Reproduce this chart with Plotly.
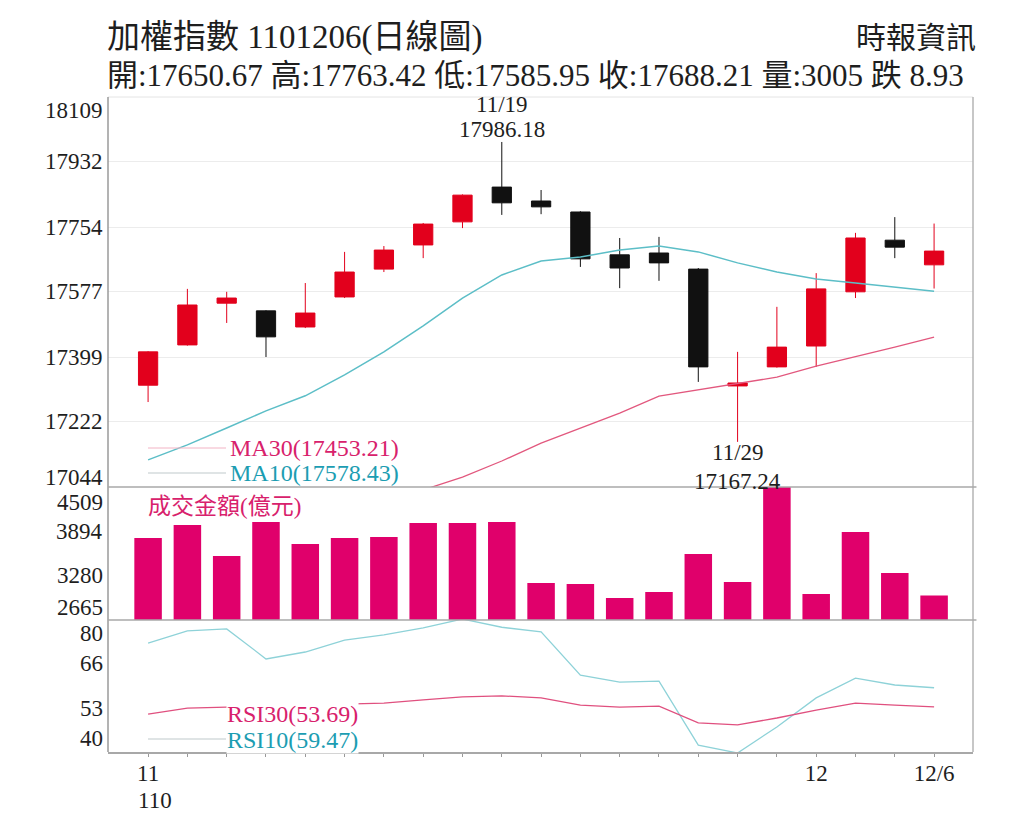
import plotly.graph_objects as go

# ---------------- data ----------------
dates = ["11/08", "11/09", "11/10", "11/11", "11/12", "11/15", "11/16", "11/17", "11/18", "11/19",
         "11/22", "11/23", "11/24", "11/25", "11/26", "11/29", "11/30", "12/01", "12/02", "12/03", "12/06"]
open_ = [17322, 17432, 17546, 17525, 17481, 17563, 17639, 17705, 17768, 17863,
         17825, 17795, 17678, 17683, 17639, 17320, 17372, 17429, 17577, 17718, 17650.67]
high = [17415, 17585, 17577, 17527, 17601, 17686, 17702, 17765, 17843, 17986.18,
        17855, 17797, 17724, 17727, 17642, 17413, 17536, 17628, 17738, 17781, 17763.42]
low = [17276, 17430, 17492, 17399, 17478, 17560, 17631, 17669, 17751, 17787,
       17789, 17645, 17587, 17607, 17331, 17167.24, 17370, 17372, 17560, 17669, 17585.95]
close = [17413, 17541, 17560, 17454, 17519, 17631, 17691, 17762, 17841, 17820,
         17809, 17667, 17642, 17656, 17372, 17328, 17426, 17585, 17724, 17699, 17688.21]
ma10 = [17118, 17159, 17205, 17252, 17293, 17350, 17413, 17484, 17560, 17623,
        17661, 17672, 17691, 17702, 17686, 17656, 17631, 17612, 17601, 17590, 17578.43]
ma30 = [16830, 16860, 16885, 16910, 16935, 16960, 16990, 17036, 17071, 17115,
        17164, 17205, 17246, 17292, 17309, 17325, 17344, 17374, 17399, 17426, 17453.21]
volume = [3802, 3982, 3552, 4024, 3719, 3802, 3816, 4010, 4010, 4024,
          3178, 3164, 2970, 3053, 3580, 3192, 4509, 3025, 3885, 3317, 3005]
rsi10 = [73.0, 76.7, 77.3, 68.2, 70.3, 73.9, 75.5, 77.6, 80.3, 77.8,
         76.4, 63.3, 61.2, 61.5, 42.1, 39.7, 47.6, 56.4, 62.4, 60.3, 59.47]
rsi30 = [51.5, 53.3, 53.6, 53.9, 54.2, 54.5, 54.8, 55.8, 56.7, 57.0,
         56.4, 54.2, 53.6, 53.9, 48.8, 48.2, 50.3, 52.7, 54.8, 54.2, 53.69]

price_ticks = [17044, 17222, 17399, 17577, 17754, 17932, 18109]
vol_ticks = [2665, 3280, 3894, 4509]
rsi_tickvals = [40, 53.33, 66.67, 80]
rsi_ticktext = ["40", "53", "66", "80"]
x_ticktext = {0: "11", 17: "12", 20: "12/6"}

title = "加權指數 1101206(日線圖)"
source = "時報資訊"
quote = "開:17650.67 高:17763.42 低:17585.95 收:17688.21 量:3005 跌 8.93"

# ---------------- styling ----------------
RED = "#E2001C"
BLK = "#111111"
VOL = "#E0006B"
MA10_C = "#5CBEC7"
MA30_C = "#E2587E"
MA10_T = "#1C9DB2"
MA30_T = "#D8216C"
RSI10_C = "#8ED2D8"
RSI30_C = "#E0507F"
SERIF = "Liberation Serif, Noto Sans CJK TC, serif"
TXT = "#1e1e1e"

PAGE_OFF = 8              # default body margin of the written page
W, H = 1024 - PAGE_OFF, 837 - PAGE_OFF
L, R, T, B = 108, 973, 97, 752  # plot box in page pixels


def px(xp):
    return (xp - L) / (R - L)


def py(yp):
    return (B - yp) / (B - T)


x = list(range(len(dates)))

fig = go.Figure()
fig.add_trace(go.Candlestick(
    x=x, open=open_, high=high, low=low, close=close,
    increasing=dict(line=dict(color=RED, width=1), fillcolor=RED),
    decreasing=dict(line=dict(color=BLK, width=1), fillcolor=BLK),
    whiskerwidth=0, xaxis="x", yaxis="y", showlegend=False, hoverinfo="skip"))
fig.add_trace(go.Scatter(x=x, y=ma10, mode="lines", line=dict(color=MA10_C, width=1.5),
                         xaxis="x", yaxis="y", showlegend=False, hoverinfo="skip"))
fig.add_trace(go.Scatter(x=x, y=ma30, mode="lines", line=dict(color=MA30_C, width=1.3),
                         xaxis="x", yaxis="y", showlegend=False, hoverinfo="skip"))
fig.add_trace(go.Bar(x=x, y=volume, width=0.7, marker=dict(color=VOL, line=dict(width=0)),
                     xaxis="x", yaxis="y2", showlegend=False, hoverinfo="skip"))
fig.add_trace(go.Scatter(x=x, y=rsi10, mode="lines", line=dict(color=RSI10_C, width=1.3),
                         xaxis="x", yaxis="y3", showlegend=False, hoverinfo="skip"))
fig.add_trace(go.Scatter(x=x, y=rsi30, mode="lines", line=dict(color=RSI30_C, width=1.3),
                         xaxis="x", yaxis="y3", showlegend=False, hoverinfo="skip"))

ann = []


def ylab(val, text, yref, shift):
    ann.append(dict(x=px(105), xref="paper", xanchor="right", y=val, yref=yref,
                    yanchor="middle", yshift=shift, text=text, showarrow=False,
                    font=dict(family=SERIF, size=23, color=TXT)))


for i, v in enumerate(price_ticks):
    s = -13 if i == len(price_ticks) - 1 else (10 if i == 0 else 0)
    ylab(v, str(v), "y", s)
for i, v in enumerate(vol_ticks):
    s = -15 if i == len(vol_ticks) - 1 else (13 if i == 0 else 0)
    ylab(v, str(v), "y2", s)
for i, (v, t) in enumerate(zip(rsi_tickvals, rsi_ticktext)):
    s = -13 if i == len(rsi_tickvals) - 1 else (14 if i == 0 else 0)
    ylab(v, t, "y3", s)

# year label under first tick
ann.append(dict(x=0, xref="x", xanchor="left", xshift=-12, y=py(800), yref="paper",
                yanchor="middle", text="110", showarrow=False,
                font=dict(family=SERIF, size=23, color=TXT)))

# high / low markers
hi_i = max(range(len(high)), key=lambda k: high[k])
lo_i = min(range(len(low)), key=lambda k: low[k])
ann.append(dict(x=hi_i, xref="x", y=high[hi_i], yref="y", yanchor="bottom", yshift=-2,
                text=f"{high[hi_i]:.2f}", showarrow=False, font=dict(family=SERIF, size=23, color=TXT)))
ann.append(dict(x=hi_i, xref="x", y=high[hi_i], yref="y", yanchor="bottom", yshift=23,
                text=dates[hi_i], showarrow=False, font=dict(family=SERIF, size=23, color=TXT)))
ann.append(dict(x=lo_i, xref="x", y=low[lo_i], yref="y", yanchor="top", yshift=4,
                text=dates[lo_i], showarrow=False, font=dict(family=SERIF, size=23, color=TXT)))
ann.append(dict(x=lo_i, xref="x", y=low[lo_i], yref="y", yanchor="top", yshift=-25,
                text=f"{low[lo_i]:.2f}", showarrow=False, font=dict(family=SERIF, size=23, color=TXT)))

# legends
ann.append(dict(x=px(228), xref="paper", xanchor="left", y=py(448), yref="paper", yanchor="middle",
                text=f"MA30({ma30[-1]:.2f})", showarrow=False, bgcolor="white",
                font=dict(family=SERIF, size=24, color=MA30_T)))
ann.append(dict(x=px(228), xref="paper", xanchor="left", y=py(473), yref="paper", yanchor="middle",
                text=f"MA10({ma10[-1]:.2f})", showarrow=False,
                font=dict(family=SERIF, size=24, color=MA10_T)))
ann.append(dict(x=px(146), xref="paper", xanchor="left", y=py(506), yref="paper", yanchor="middle",
                text="成交金額(億元)", showarrow=False,
                font=dict(family=SERIF, size=23, color=MA30_T)))
ann.append(dict(x=px(226), xref="paper", xanchor="left", y=py(714), yref="paper", yanchor="middle",
                text=f"RSI30({rsi30[-1]:.2f})", showarrow=False, bgcolor="white", borderpad=0,
                font=dict(family=SERIF, size=24, color=MA30_T)))
ann.append(dict(x=px(226), xref="paper", xanchor="left", y=py(740), yref="paper", yanchor="middle",
                text=f"RSI10({rsi10[-1]:.2f})", showarrow=False, bgcolor="white", borderpad=0,
                font=dict(family=SERIF, size=24, color=MA10_T)))

# titles
ann.append(dict(x=px(106), xref="paper", xanchor="left", y=py(37), yref="paper", yanchor="middle",
                text=title, showarrow=False, borderpad=0, font=dict(family=SERIF, size=33, color=TXT)))
ann.append(dict(x=px(106), xref="paper", xanchor="left", y=py(75), yref="paper", yanchor="middle",
                text=quote, showarrow=False, borderpad=0, font=dict(family=SERIF, size=31, color=TXT)))
ann.append(dict(x=px(977), xref="paper", xanchor="right", y=py(38), yref="paper", yanchor="middle",
                text=source, showarrow=False, borderpad=0, font=dict(family=SERIF, size=30, color=TXT)))

shapes = [
    dict(type="line", xref="paper", yref="paper", x0=0, x1=1, y0=1, y1=1, line=dict(color="#e4e4e4", width=1)),
    dict(type="line", xref="paper", yref="paper", x0=1, x1=1, y0=0, y1=1, line=dict(color="#b5b5b5", width=1.5)),
    dict(type="line", xref="paper", yref="paper", x0=0, x1=0, y0=0, y1=1, line=dict(color="#9a9a9a", width=1.5)),
    dict(type="line", xref="paper", yref="paper", x0=0, x1=1.004, y0=py(487), y1=py(487), line=dict(color="#a8a8a8", width=1.5)),
    dict(type="line", xref="paper", yref="paper", x0=0, x1=1.004, y0=py(620), y1=py(620), line=dict(color="#a8a8a8", width=1.5)),
    dict(type="line", xref="paper", yref="paper", x0=px(148), x1=px(226), y0=py(448), y1=py(448), line=dict(color="#f2b3c4", width=1)),
    dict(type="line", xref="paper", yref="paper", x0=px(148), x1=px(226), y0=py(473), y1=py(473), line=dict(color="#bfc9cb", width=1)),
    dict(type="line", xref="paper", yref="paper", x0=px(148), x1=px(226), y0=py(739), y1=py(739), line=dict(color="#bfc9cb", width=1)),
]

fig.update_layout(
    width=W, height=H,
    margin=dict(l=L - PAGE_OFF, r=W - (R - PAGE_OFF), t=T - PAGE_OFF, b=H - (B - PAGE_OFF), pad=0),
    paper_bgcolor="white", plot_bgcolor="white",
    showlegend=False,
    xaxis=dict(domain=[0, 1], range=[-1.02, 20.99], anchor="y3",
               tickmode="array", tickvals=x, ticktext=[x_ticktext.get(i, "") for i in x],
               ticks="outside", ticklen=3, tickcolor="#999", showline=True, linecolor="#a8a8a8", linewidth=1.5,
               ticklabelstandoff=-3,
               showgrid=False, zeroline=False, rangeslider=dict(visible=False),
               tickfont=dict(family=SERIF, size=23, color=TXT)),
    yaxis=dict(domain=[py(487), 1], range=[price_ticks[0], price_ticks[-1]], anchor="x",
               tickmode="array", tickvals=price_ticks, showticklabels=False,
               showgrid=True, gridcolor="#ececec", gridwidth=1, zeroline=False, showline=False),
    yaxis2=dict(domain=[py(620), py(487)], range=[vol_ticks[0], vol_ticks[-1]], anchor="x",
                showticklabels=False, showgrid=False, zeroline=False, showline=False),
    yaxis3=dict(domain=[0, py(620)], range=[rsi_tickvals[0], rsi_tickvals[-1]], anchor="x",
                showticklabels=False, showgrid=False, zeroline=False, showline=False),
    annotations=ann,
    shapes=shapes,
)

fig.write_html("out.html")
